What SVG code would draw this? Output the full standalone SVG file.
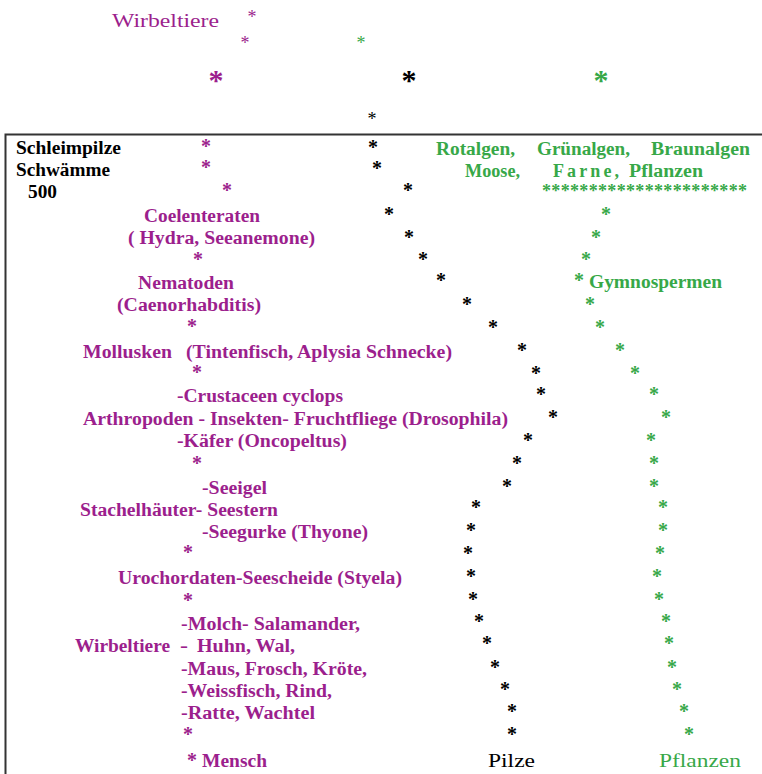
<svg xmlns="http://www.w3.org/2000/svg" width="762" height="774" viewBox="0 0 762 774">
<style>
text{font-family:'Liberation Serif','DejaVu Serif',serif;font-weight:700;font-size:18px}
.m{fill:#9c1f8d}
.g{fill:#37a848}
.k{fill:#000}
.s{text-anchor:middle}
.p{font-size:20px}
.big{font-size:30px}
.reg{font-weight:400}
</style>
<rect width="762" height="774" fill="#fff"/>
<g id="frame"><path d="M5.5,790 V134.5 H770" fill="none" stroke="#333" stroke-width="2"/></g>

<g id="top">
<text class="m reg" x="112" y="27" font-size="22" textLength="107" lengthAdjust="spacingAndGlyphs">Wirbeltiere</text>
<text class="m s reg" x="252" y="23">*</text>
<text class="m s reg" x="245" y="49">*</text>
<text class="g s reg" x="361" y="49">*</text>
<text class="m s big" x="216" y="90">*</text>
<text class="k s big" x="409" y="90">*</text>
<text class="g s big" x="601" y="90">*</text>
<text class="k s reg" x="372" y="125">*</text>
</g>

<g id="left-labels">
<text class="k" x="16" y="154" textLength="105" lengthAdjust="spacingAndGlyphs">Schleimpilze</text>
<text class="k" x="16" y="176" textLength="94" lengthAdjust="spacingAndGlyphs">Schwämme</text>
<text class="k" x="28" y="198" textLength="29" lengthAdjust="spacingAndGlyphs">500</text>
</g>

<g id="tiere">
<text class="m" x="144" y="222" textLength="116" lengthAdjust="spacingAndGlyphs">Coelenteraten</text>
<text class="m" x="128" y="244" textLength="187" lengthAdjust="spacingAndGlyphs">( Hydra, Seeanemone)</text>
<text class="m" x="138" y="289" textLength="96" lengthAdjust="spacingAndGlyphs">Nematoden</text>
<text class="m" x="117" y="311" textLength="144" lengthAdjust="spacingAndGlyphs">(Caenorhabditis)</text>
<text class="m" x="83" y="358" textLength="89" lengthAdjust="spacingAndGlyphs">Mollusken</text>
<text class="m" x="186" y="358" textLength="266" lengthAdjust="spacingAndGlyphs">(Tintenfisch, Aplysia Schnecke)</text>
<text class="m" x="177" y="402" textLength="166" lengthAdjust="spacingAndGlyphs">-Crustaceen cyclops</text>
<text class="m" x="83" y="425" textLength="425" lengthAdjust="spacingAndGlyphs">Arthropoden - Insekten- Fruchtfliege (Drosophila)</text>
<text class="m" x="177" y="447" textLength="170" lengthAdjust="spacingAndGlyphs">-Käfer (Oncopeltus)</text>
<text class="m" x="202" y="494" textLength="65" lengthAdjust="spacingAndGlyphs">-Seeigel</text>
<text class="m" x="80" y="516" textLength="198" lengthAdjust="spacingAndGlyphs">Stachelhäuter- Seestern</text>
<text class="m" x="202" y="538" textLength="166" lengthAdjust="spacingAndGlyphs">-Seegurke (Thyone)</text>
<text class="m" x="118" y="584" textLength="284" lengthAdjust="spacingAndGlyphs">Urochordaten-Seescheide (Styela)</text>
<text class="m" x="181" y="630" textLength="179" lengthAdjust="spacingAndGlyphs">-Molch- Salamander,</text>
<text class="m" x="75" y="652" textLength="95" lengthAdjust="spacingAndGlyphs">Wirbeltiere</text>
<text class="m" x="180" y="652" textLength="8" lengthAdjust="spacingAndGlyphs">-</text>
<text class="m" x="197" y="652" textLength="98" lengthAdjust="spacingAndGlyphs">Huhn, Wal,</text>
<text class="m" x="181" y="675" textLength="186" lengthAdjust="spacingAndGlyphs">-Maus, Frosch, Kröte,</text>
<text class="m" x="181" y="697" textLength="151" lengthAdjust="spacingAndGlyphs">-Weissfisch, Rind,</text>
<text class="m" x="181" y="719" textLength="134" lengthAdjust="spacingAndGlyphs">-Ratte, Wachtel</text>
<text class="m" x="202" y="767" textLength="65" lengthAdjust="spacingAndGlyphs">Mensch</text>
</g>

<g id="tiere-stars" transform="translate(0,1)">
<text class="m s p" x="206" y="152">*</text>
<text class="m s p" x="206" y="173">*</text>
<text class="m s p" x="227" y="196">*</text>
<text class="m s p" x="198" y="265">*</text>
<text class="m s p" x="192" y="332">*</text>
<text class="m s p" x="197" y="378">*</text>
<text class="m s p" x="197" y="469">*</text>
<text class="m s p" x="188" y="558">*</text>
<text class="m s p" x="188" y="606">*</text>
<text class="m s p" x="188" y="740">*</text>
<text class="m s p" x="192" y="766">*</text>
</g>

<g id="pilze-stars" transform="translate(0,1)">
<text class="k s p" x="373" y="153">*</text>
<text class="k s p" x="377" y="174">*</text>
<text class="k s p" x="408" y="196">*</text>
<text class="k s p" x="389" y="220">*</text>
<text class="k s p" x="409" y="243">*</text>
<text class="k s p" x="423" y="265">*</text>
<text class="k s p" x="441" y="286">*</text>
<text class="k s p" x="467" y="310">*</text>
<text class="k s p" x="493" y="333">*</text>
<text class="k s p" x="522" y="356">*</text>
<text class="k s p" x="536" y="379">*</text>
<text class="k s p" x="541" y="400">*</text>
<text class="k s p" x="553" y="423">*</text>
<text class="k s p" x="528" y="446">*</text>
<text class="k s p" x="517" y="469">*</text>
<text class="k s p" x="507" y="492">*</text>
<text class="k s p" x="476" y="513">*</text>
<text class="k s p" x="471" y="536">*</text>
<text class="k s p" x="468" y="559">*</text>
<text class="k s p" x="471" y="582">*</text>
<text class="k s p" x="473" y="605">*</text>
<text class="k s p" x="479" y="627">*</text>
<text class="k s p" x="487" y="649">*</text>
<text class="k s p" x="495" y="673">*</text>
<text class="k s p" x="505" y="695">*</text>
<text class="k s p" x="512" y="717">*</text>
<text class="k s p" x="512" y="740">*</text>
</g>
<g id="pilze-label">
<text class="k reg" x="488" y="767" font-size="23" textLength="47" lengthAdjust="spacingAndGlyphs">Pilze</text>
</g>

<g id="pflanzen">
<text class="g" x="436" y="155" textLength="79" lengthAdjust="spacingAndGlyphs">Rotalgen,</text>
<text class="g" x="537" y="155" textLength="93" lengthAdjust="spacingAndGlyphs">Grünalgen,</text>
<text class="g" x="651" y="155" textLength="99" lengthAdjust="spacingAndGlyphs">Braunalgen</text>
<text class="g" x="465" y="177" textLength="55" lengthAdjust="spacingAndGlyphs">Moose,</text>
<text class="g" x="553" y="177" textLength="66" lengthAdjust="spacing">Farne,</text>
<text class="g" x="629" y="177" textLength="74" lengthAdjust="spacingAndGlyphs">Pflanzen</text>
<text class="g" x="542" y="197" textLength="205" lengthAdjust="spacing">**********************</text>
<text class="g" x="589" y="288" textLength="133" lengthAdjust="spacingAndGlyphs">Gymnospermen</text>
<text class="g reg" x="659" y="767" font-size="23" textLength="82" lengthAdjust="spacingAndGlyphs">Pflanzen</text>
</g>

<g id="pflanzen-stars" transform="translate(0,1)">
<text class="g s p" x="606" y="220">*</text>
<text class="g s p" x="596" y="243">*</text>
<text class="g s p" x="586" y="265">*</text>
<text class="g s p" x="579" y="286">*</text>
<text class="g s p" x="590" y="310">*</text>
<text class="g s p" x="600" y="333">*</text>
<text class="g s p" x="620" y="356">*</text>
<text class="g s p" x="635" y="379">*</text>
<text class="g s p" x="654" y="400">*</text>
<text class="g s p" x="666" y="423">*</text>
<text class="g s p" x="651" y="446">*</text>
<text class="g s p" x="654" y="469">*</text>
<text class="g s p" x="654" y="492">*</text>
<text class="g s p" x="663" y="513">*</text>
<text class="g s p" x="663" y="536">*</text>
<text class="g s p" x="660" y="559">*</text>
<text class="g s p" x="657" y="582">*</text>
<text class="g s p" x="659" y="605">*</text>
<text class="g s p" x="666" y="627">*</text>
<text class="g s p" x="669" y="649">*</text>
<text class="g s p" x="672" y="673">*</text>
<text class="g s p" x="677" y="695">*</text>
<text class="g s p" x="684" y="717">*</text>
<text class="g s p" x="689" y="740">*</text>
</g>
</svg>
